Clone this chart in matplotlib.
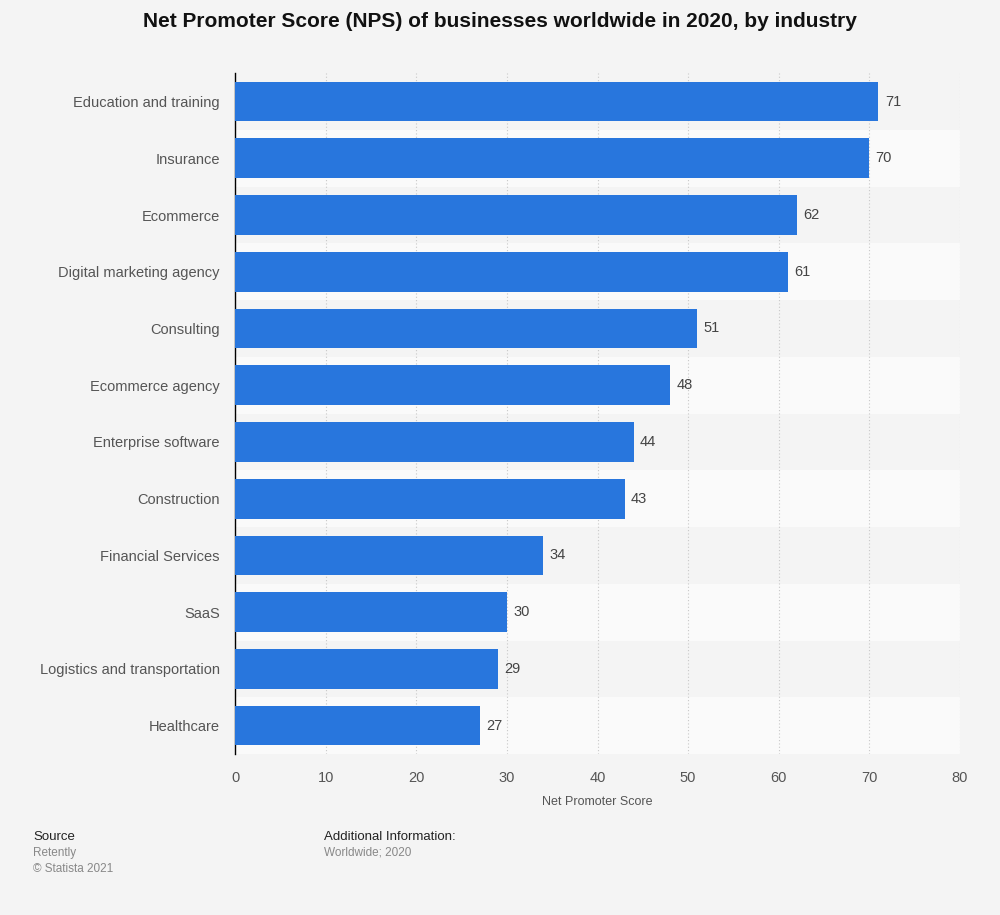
import matplotlib.pyplot as plt
import numpy as np

industries = ["Education and training", "Insurance", "Ecommerce", "Digital marketing agency",
              "Consulting", "Ecommerce agency", "Enterprise software", "Construction",
              "Financial Services", "SaaS", "Logistics and transportation", "Healthcare"]
nps = [71, 70, 62, 61, 51, 48, 44, 43, 34, 30, 29, 27]
x_ticks = [0, 10, 20, 30, 40, 50, 60, 70, 80]

plt.rcParams['font.family'] = ['Liberation Sans', 'DejaVu Sans']

bg = '#f4f4f4'
fig = plt.figure(figsize=(10, 9.15), dpi=100, facecolor=bg)
ax = fig.add_axes([0.235, 0.176, 0.725, 0.744])
ax.set_facecolor(bg)

y = np.arange(len(industries))
# alternating row bands
for i in y:
    if i % 2 == 1:
        ax.axhspan(i - 0.5, i + 0.5, color='#fafafa', zorder=0, lw=0)

ax.barh(y, nps, height=0.7, color='#2876dd', zorder=3)
for yi, v in zip(y, nps):
    ax.text(v + 0.7, yi, str(v), va='center', ha='left', fontsize=10.5, color='#444444', zorder=4)

ax.set_ylim(len(industries) - 0.5, -0.5)
ax.set_xlim(0, 80)
ax.set_xticks(x_ticks)
ax.set_yticks(y)
ax.set_yticklabels(industries)
ax.grid(axis='x', color='#c8c8c8', linestyle=(0, (1, 2)), lw=0.8, zorder=1)
ax.tick_params(axis='both', length=0, labelsize=10.5, colors='#555555')
ax.tick_params(axis='x', pad=12)
ax.tick_params(axis='y', pad=11)
for s in ['top', 'right', 'bottom']:
    ax.spines[s].set_visible(False)
ax.spines['left'].set_color('#000000')
ax.spines['left'].set_linewidth(1)
ax.set_xlabel('Net Promoter Score', fontsize=9, color='#555555', labelpad=8)

fig.text(0.5, 0.976, 'Net Promoter Score (NPS) of businesses worldwide in 2020, by industry',
         ha='center', va='center', fontsize=15, fontweight='bold', color='#111111')

fig.text(0.033, 0.085, 'Source', fontsize=9.5, color='#222222', va='center')
fig.text(0.033, 0.068, 'Retently', fontsize=8.5, color='#888888', va='center')
fig.text(0.033, 0.050, '\u00a9 Statista 2021', fontsize=8.5, color='#888888', va='center')
fig.text(0.324, 0.085, 'Additional Information:', fontsize=9.5, color='#222222', va='center')
fig.text(0.324, 0.068, 'Worldwide; 2020', fontsize=8.5, color='#888888', va='center')

fig.savefig('out.png', dpi=100, facecolor=bg)
